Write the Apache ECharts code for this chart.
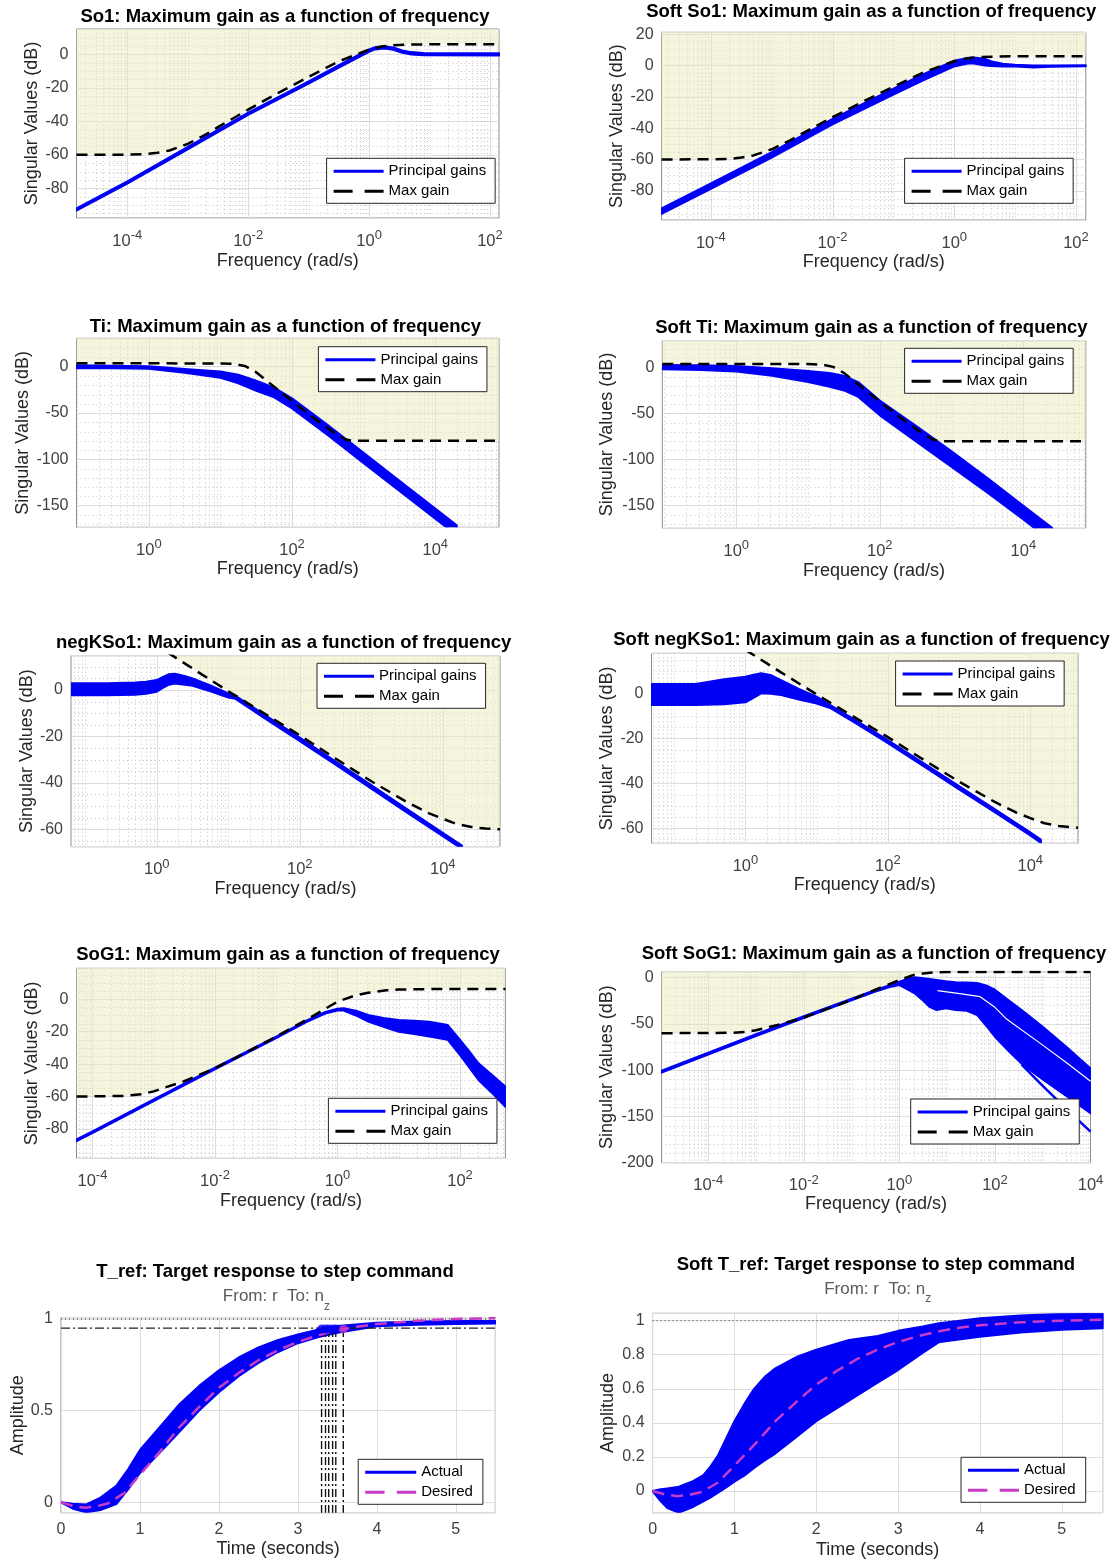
<!DOCTYPE html>
<html>
<head>
<meta charset="utf-8">
<script src="https://cdn.jsdelivr.net/npm/echarts/dist/echarts.min.js"></script>
<style>html,body{margin:0;padding:0;background:#fff}#c{width:1118px;height:1565px}</style>
</head>
<body>
<div id="c"></div>
<script>
// ================= DATA =================
// --- So1 ---
const so1BandFreq  = [1.445e-5, 1e-4, 1e-3, 1e-2, 0.1, 0.316, 1, 1.26, 1.78, 2.51, 3.55, 5.0, 7.94, 141];
const so1BandUpper = [-91.9, -75.8, -55.3, -34.8, -16.1, -6.5, 2.9, 4.3, 4.8, 4.1, 2.3, 1.3, 0.8, 0.7];
const so1BandLower = [-93.3, -77.2, -56.7, -36.2, -17.5, -7.9, 1.5, 2.9, 3.4, 2.7, 0.9, -0.1, -0.6, -0.7];
const so1MaxFreq   = [1.445e-5, 1e-4, 2e-4, 3.16e-4, 5e-4, 1e-3, 2e-3, 3.16e-3, 1e-2, 0.0316, 0.1, 0.316, 1, 1.585, 2.51, 5.0, 10, 141];
const so1MaxGain   = [-60, -59.9, -59.6, -58.8, -57.4, -53.5, -47.8, -43.5, -33, -23, -13.5, -4.2, 2.8, 4.6, 5.4, 5.8, 6, 6];

// --- Soft So1 ---
const softSo1BandFreq  = [1.55e-5, 1e-4, 1e-3, 1e-2, 0.1, 0.316, 1, 1.585, 2.0, 3.16, 3.98, 6.3, 10, 20, 39.8, 145];
const softSo1BandUpper = [-91.3, -75.3, -55.3, -34, -14.8, -5.3, 3.2, 4.8, 5.2, 4.5, 2.8, 1.2, 0.5, 0, 0, 0.3];
const softSo1BandLower = [-94.8, -78.8, -58.8, -37.5, -18.5, -9.2, -0.5, 1.2, 1.5, 0, -0.3, -0.5, -0.6, -1.2, -0.8, -0.4];
const softSo1MaxFreq   = [1.55e-5, 1e-4, 2e-4, 3.16e-4, 5e-4, 1e-3, 2e-3, 3.16e-3, 1e-2, 0.0316, 0.1, 0.316, 1, 1.585, 2.51, 5.0, 10, 145];
const softSo1MaxGain   = [-60, -59.9, -59.6, -58.8, -57.4, -53.5, -47.8, -43.5, -33, -23, -13.5, -4.2, 2.8, 4.6, 5.4, 5.8, 6, 6];

// --- Ti ---
const tiBandFreq  = [0.0977, 0.316, 1, 3.16, 10, 17.8, 31.6, 56.2, 100, 316, 1000, 3162, 10000, 19950];
const tiBandUpper = [1.5, 1.2, 0.5, -2.5, -5, -8.5, -15, -22.5, -34, -63, -93, -123, -153, -171];
const tiBandLower = [-1.5, -1.6, -2.2, -6.5, -12, -18, -26, -33, -45, -74, -104, -134, -164, -182];
const tiMaxFreq   = [0.0977, 10, 15.8, 22.4, 31.6, 41.7, 100, 190, 398, 562, 708, 77600];
const tiMaxGain   = [3.7, 3.6, 3, 0.5, -6, -13.5, -37, -54, -72, -78.5, -80, -80];

// --- Soft Ti ---
const softTiBandFreq  = [0.0933, 0.316, 1, 3.16, 10, 20, 31.6, 50.1, 100, 316, 1000, 3162, 10000, 25100];
const softTiBandUpper = [2.5, 2.2, 1.5, -1, -4, -6, -9, -16, -36, -63, -91, -120, -150, -174];
const softTiBandLower = [-2, -2.8, -4.5, -9, -16, -21, -25, -32, -52, -80, -108, -136, -165, -189];
const softTiMaxFreq   = [0.0933, 10, 15.8, 22.4, 31.6, 41.7, 100, 190, 398, 562, 708, 74100];
const softTiMaxGain   = [3.7, 3.6, 3, 0.5, -6, -13.5, -37, -54, -72, -78.5, -80, -80];

// --- negKSo1 ---
const negBandFreq  = [0.0631, 0.2, 0.501, 0.708, 1, 1.2, 1.48, 1.78, 2.0, 2.51, 3.16, 5.62, 10, 12.6, 31.6, 100, 316, 1000, 3162, 10000, 18600];
const negBandUpper = [2.9, 2.9, 3.2, 3.6, 4.3, 5.6, 6.8, 7.0, 6.7, 6.0, 5, 2, -1.5, -2.5, -10.5, -20.5, -30.7, -41, -51.3, -61.5, -67];
const negBandLower = [-2.2, -2.2, -2, -1.6, -0.7, 0.8, 2.3, 2.8, 2.6, 2.3, 1.8, -0.5, -3.2, -3.8, -12, -22, -32.2, -42.5, -52.8, -63, -68.5];
const negMaxFreq   = [1.41, 3.16, 10, 31.6, 100, 316, 1000, 3162, 6310, 10000, 15850, 25100, 39800, 63100];
const negMaxGain   = [16.2, 9.3, -0.5, -10, -19.5, -29.5, -39.3, -48.3, -53, -55.5, -57.8, -59, -59.7, -60];

// --- Soft negKSo1 ---
const softNegBandFreq  = [0.0479, 0.2, 0.501, 1, 1.26, 1.66, 2.24, 3.16, 5.62, 10, 15.8, 31.6, 100, 316, 1000, 3162, 10000, 14100];
const softNegBandUpper = [4.1, 4.2, 6.3, 7.4, 8.2, 8.9, 8.2, 5.9, 2, -1.5, -5.3, -11, -20.8, -31, -41.3, -51.5, -61.8, -65];
const softNegBandLower = [-5.2, -5.2, -4.9, -4, -2.2, 0, -0.2, -0.8, -2.8, -4.5, -6.7, -12.4, -22.2, -32.4, -42.7, -52.9, -63.2, -66.5];
const softNegMaxFreq   = [1, 3.16, 10, 31.6, 100, 316, 1000, 3162, 6310, 10000, 15850, 25100, 46800];
const softNegMaxGain   = [19.3, 9.3, -0.5, -10, -19.5, -29.5, -39.3, -48.3, -53, -55.5, -57.8, -59, -59.8];

// --- SoG1 ---
const sog1BandFreq  = [5.5e-5, 1e-4, 1e-3, 0.01, 0.1, 0.316, 0.631, 1, 1.26, 2.0, 3.16, 5.62, 10, 17.8, 31.6, 63.1, 100, 141, 200, 316, 550];
const sog1BandUpper = [-86.5, -81.5, -61.8, -42.2, -23, -13, -7.8, -5.8, -5.6, -7, -9.7, -11.5, -12.8, -13.3, -13.8, -15.9, -25, -32, -39.5, -46, -53.9];
const sog1BandLower = [-87.5, -82.5, -62.8, -43.2, -24, -14, -8.8, -7, -7, -10, -13.8, -17, -20, -21.5, -23, -25, -34.4, -42, -49.8, -57, -66.3];
const sog1MaxFreq   = [5.5e-5, 3.16e-4, 6.3e-4, 1e-3, 3.16e-3, 0.01, 0.0316, 0.1, 0.316, 1, 2.0, 3.16, 6.3, 10, 31.6, 550];
const sog1MaxGain   = [-60, -59.6, -58.6, -56.8, -50.5, -42.6, -33, -23, -12.5, -1.5, 2.5, 4, 5.5, 6, 6.3, 6.3];

// --- Soft SoG1 ---
const softSog1BandFreq  = [1.06e-5, 1e-4, 1e-3, 0.01, 0.1, 0.316, 0.631, 1, 1.41, 2.14, 3.16, 4.27, 6.03, 9.33, 15.1, 25.7, 42.7, 70.8, 100, 200, 363, 1000, 3162, 10000];
const softSog1BandUpper = [-100.6, -81, -61, -41.5, -22.8, -13.3, -8, -4.3, -1.5, 0.5, -0.5, -1.5, -2.5, -3.8, -4.8, -5.3, -5.8, -9, -13, -25, -35, -53, -75, -98];
const softSog1BandLower = [-102.6, -83, -63, -43.5, -24.5, -15, -10, -8, -12, -17.3, -25, -31.4, -35, -33, -35, -35.7, -40.3, -54, -63.8, -80, -93, -110, -128, -146.6];
const softSog1ThinFreq  = [363, 1000, 3162, 10000];
const softSog1Thin      = [-94, -117, -142, -166.5];
const softSog1GapFreq   = [6.3, 20, 49, 100, 178, 891, 3162, 10000];
const softSog1Gap       = [-14, -17.5, -20.5, -32, -45, -71, -92, -112];
const softSog1MaxFreq   = [1.06e-5, 3.16e-4, 6.3e-4, 1e-3, 3.16e-3, 0.01, 0.0316, 0.1, 0.316, 1, 2.0, 3.16, 5.13, 10, 31.6, 10000];
const softSog1MaxGain   = [-60, -59.6, -58.6, -56.8, -50.5, -43, -33.5, -24, -13, -2.5, 2.9, 4.5, 5.8, 6.2, 6.3, 6.3];

// --- T_ref (step) ---
const trefTime  = [0, 0.15, 0.32, 0.5, 0.7, 0.85, 1.0, 1.25, 1.5, 1.75, 2.0, 2.25, 2.5, 2.75, 3.0, 3.25, 3.5, 4.0, 4.5, 5.0, 5.5];
const trefUpper = [0, -0.008, -0.012, 0.025, 0.09, 0.18, 0.285, 0.41, 0.535, 0.635, 0.72, 0.79, 0.845, 0.885, 0.915, 0.942, 0.962, 0.98, 0.986, 0.989, 0.989];
const trefLower = [0, -0.035, -0.055, -0.042, -0.01, 0.07, 0.16, 0.27, 0.385, 0.5, 0.6, 0.688, 0.76, 0.82, 0.868, 0.9, 0.925, 0.96, 0.968, 0.972, 0.975];
const desiredTime = [0, 0.15, 0.3, 0.45, 0.6, 0.8, 1.0, 1.25, 1.5, 1.75, 2.0, 2.25, 2.5, 2.75, 3.0, 3.25, 3.5, 3.75, 4.0, 4.5, 5.0, 5.5];
const desiredResp = [0, -0.02, -0.03, -0.022, -0.005, 0.05, 0.15, 0.275, 0.41, 0.52, 0.625, 0.705, 0.775, 0.83, 0.875, 0.91, 0.938, 0.958, 0.973, 0.99, 1.0, 1.005];
const trefSettleTime = [3.30, 3.35, 3.39, 3.44, 3.48];
const trefSettleResp = [0.945, 0.945, 0.945, 0.945, 0.945];
const desiredSettle  = [3.575, 0.945];
const settleBandLevel = 0.95;
const steadyLevel = 1;

// --- Soft T_ref (step) ---
const softTrefTime  = [0, 0.1, 0.18, 0.32, 0.5, 0.62, 0.7, 0.8, 0.9, 1.0, 1.12, 1.24, 1.37, 1.5, 1.75, 2.0, 2.4, 2.75, 3.0, 3.3, 3.5, 3.6, 4.0, 4.5, 5.0, 5.5];
const softTrefUpper = [0, 0.01, 0.015, 0.025, 0.06, 0.094, 0.14, 0.21, 0.31, 0.41, 0.51, 0.6, 0.67, 0.72, 0.785, 0.83, 0.886, 0.91, 0.94, 0.965, 0.984, 0.99, 1.014, 1.03, 1.04, 1.048];
const softTrefLower = [0, -0.06, -0.1, -0.127, -0.092, -0.06, -0.04, -0.01, 0.022, 0.055, 0.09, 0.135, 0.18, 0.22, 0.315, 0.41, 0.53, 0.636, 0.71, 0.81, 0.873, 0.88, 0.906, 0.93, 0.947, 0.955];

// ================= STYLE / LAYOUT =================
const FONT = '"Liberation Sans", Arial, Helvetica, sans-serif';
const BLUE = '#0000f5';
const MAG = '#c83cc8';
const GRID_MAJOR = '#dddddd';
const GRID_MINOR = '#c6c6c6';
const FRAME = '#8c8c8c';
const TICKTXT = '#404040';
const NAMETXT = '#262626';
const SUBTXT = '#5a5a5a';
const YELLOW = 'rgba(236,236,190,0.5)';
const ICON_SOLID = 'path://M0,0H50V3H0Z';
const ICON_DASH = 'path://M0,0H19V3H0Z M31,0H50V3H31Z';

const panels = [
  {kind:'freq', title:'So1: Maximum gain as a function of frequency', band:[so1BandFreq, so1BandUpper, so1BandLower], max:[so1MaxFreq, so1MaxGain], xr:[1.445e-5, 141], yr:[-97.7, 15.1], ystep:20, yminor:5},
  {kind:'freq', title:'Soft So1: Maximum gain as a function of frequency', band:[softSo1BandFreq, softSo1BandUpper, softSo1BandLower], max:[softSo1MaxFreq, softSo1MaxGain], xr:[1.55e-5, 145], yr:[-98.7, 21.3], ystep:20, yminor:5},
  {kind:'freq', title:'Ti: Maximum gain as a function of frequency', band:[tiBandFreq, tiBandUpper, tiBandLower], max:[tiMaxFreq, tiMaxGain], xr:[0.0977, 77600], yr:[-173.3, 30.7], ystep:50, yminor:10},
  {kind:'freq', title:'Soft Ti: Maximum gain as a function of frequency', band:[softTiBandFreq, softTiBandUpper, softTiBandLower], max:[softTiMaxFreq, softTiMaxGain], xr:[0.0933, 74100], yr:[-174.5, 28.9], ystep:50, yminor:10},
  {kind:'freq', title:'negKSo1: Maximum gain as a function of frequency', band:[negBandFreq, negBandUpper, negBandLower], max:[negMaxFreq, negMaxGain], xr:[0.0631, 63100], yr:[-67.5, 14.8], ystep:20, yminor:5},
  {kind:'freq', title:'Soft negKSo1: Maximum gain as a function of frequency', band:[softNegBandFreq, softNegBandUpper, softNegBandLower], max:[softNegMaxFreq, softNegMaxGain], xr:[0.0479, 46800], yr:[-66.7, 17.8], ystep:20, yminor:5},
  {kind:'freq', title:'SoG1: Maximum gain as a function of frequency', band:[sog1BandFreq, sog1BandUpper, sog1BandLower], max:[sog1MaxFreq, sog1MaxGain], xr:[5.5e-5, 550], yr:[-98.1, 19.1], ystep:20, yminor:5},
  {kind:'freq', title:'Soft SoG1: Maximum gain as a function of frequency', band:[softSog1BandFreq, softSog1BandUpper, softSog1BandLower], max:[softSog1MaxFreq, softSog1MaxGain], xr:[1.06e-5, 10000], yr:[-200, 6.5], ystep:50, yminor:10,
     thin:[softSog1ThinFreq, softSog1Thin], gap:[softSog1GapFreq, softSog1Gap]},
  {kind:'step', title:'T_ref: Target response to step command', band:[trefTime, trefUpper, trefLower], desired:[desiredTime, desiredResp], xr:[0, 5.5], yr:[-0.057, 1.007], ystep:0.5, ysplit:2, settle:true},
  {kind:'step', title:'Soft T_ref: Target response to step command', band:[softTrefTime, softTrefUpper, softTrefLower], desired:[desiredTime, desiredResp], xr:[0, 5.5], yr:[-0.127, 1.043], ystep:0.2, ysplit:5}
];

const layouts = [
  {grid:[76.5, 29, 422.5, 189],    title:[285, 17],      yGap:35.5, xGap:33.7, legend:[326.6, 158.3]},
  {grid:[661.6, 32.3, 424.2, 187.7], title:[871.3, 11.7], yGap:35.1, xGap:33.3, legend:[904.6, 158.3]},
  {grid:[76.5, 338.3, 422.5, 189],  title:[285.4, 327.3], yGap:44,   xGap:31,   legend:[318.4, 346.7]},
  {grid:[662.3, 340.7, 423.5, 187.6], title:[871.4, 328.3], yGap:46.5, xGap:33.4, legend:[904.6, 348.3]},
  {grid:[71, 655.7, 429, 191],      title:[283.6, 643.3], yGap:35.3, xGap:33.3, legend:[317, 663.3]},
  {grid:[651.5, 653.3, 426.5, 190], title:[861.5, 640],   yGap:34.8, xGap:31.7, legend:[895.6, 661]},
  {grid:[76.5, 968.3, 428.9, 190],  title:[288, 955],     yGap:35.1, xGap:33.4, legend:[328.4, 1098.3]},
  {grid:[661.6, 971.7, 428.9, 191], title:[874, 954],     yGap:45.8, xGap:32.3, legend:[910.7, 1099]},
  {grid:[61, 1317.7, 434.3, 195],   title:[275, 1271.7],  yGap:34,   xGap:27.3, legend:[358.2, 1459.3], sub:[276.4, 1298.3]},
  {grid:[652.6, 1313.3, 450.1, 199.4], title:[875.9, 1265], yGap:35.1, xGap:28.3, legend:[961, 1457.3], sub:[877.7, 1291]}
];

// ================= HELPERS =================
function supLabel(v) {
  const e = Math.log10(v);
  const r = Math.round(e);
  if (Math.abs(e - r) > 1e-6 || r % 2 !== 0) return '';
  return '{b|10}{s|' + r + '}';
}
function stepLabel(step) {
  return function (v) {
    const q = v / step;
    if (Math.abs(q - Math.round(q)) > 1e-6) return '';
    return String(Math.round(v * 1000) / 1000);
  };
}
function pairs(xs, ys) { return xs.map((x, j) => [x, ys[j]]); }

function gridLineData(p) {
  const out = [];
  const ymid = (p.yr[0] + p.yr[1]) / 2;
  const xmid = Math.sqrt(p.xr[0] * p.xr[1]);
  const k0 = Math.floor(Math.log10(p.xr[0])), k1 = Math.ceil(Math.log10(p.xr[1]));
  for (let k = k0; k <= k1; k++) {
    for (let m = 1; m <= 9; m++) {
      const v = m * Math.pow(10, k);
      if (v > p.xr[0] * 1.002 && v < p.xr[1] * 0.998) out.push([v, ymid, (m === 1 && k % 2 === 0) ? 1 : 0]);
    }
  }
  const s0 = Math.ceil(p.yr[0] / p.yminor);
  for (let s = s0; s * p.yminor < p.yr[1]; s++) {
    const y = s * p.yminor;
    const q = y / p.ystep;
    if (Math.abs(q - Math.round(q)) < 1e-6) continue;
    out.push([xmid, y, 2]);
  }
  return out;
}

function gridSeries(i, p) {
  return {
    type: 'custom', xAxisIndex: i, yAxisIndex: i, z: 1, silent: true,
    data: gridLineData(p), encode: {x: 0, y: 1},
    renderItem: function (params, api) {
      const cs = params.coordSys;
      const kind = api.value(2);
      const pt = api.coord([api.value(0), api.value(1)]);
      let shape;
      if (kind < 2) {
        const x = Math.round(pt[0]) + 0.5;
        shape = {x1: x, y1: cs.y, x2: x, y2: cs.y + cs.height};
      } else {
        const y = Math.round(pt[1]) + 0.5;
        shape = {x1: cs.x, y1: y, x2: cs.x + cs.width, y2: y};
      }
      return {type: 'line', shape: shape,
        style: kind === 1 ? {stroke: GRID_MAJOR, lineWidth: 1} : {stroke: GRID_MINOR, lineWidth: 1, lineDash: [1, 3]}};
    }
  };
}

function bandSeries(i, xs, up, lo) {
  return {
    type: 'custom', xAxisIndex: i, yAxisIndex: i, z: 3, silent: true, clip: true,
    data: [[xs[0], up[0]]], encode: {x: 0, y: 1},
    renderItem: function (params, api) {
      const pts = [];
      for (let j = 0; j < xs.length; j++) pts.push(api.coord([xs[j], up[j]]));
      for (let j = xs.length - 1; j >= 0; j--) pts.push(api.coord([xs[j], lo[j]]));
      return {type: 'polygon', shape: {points: pts}, style: {fill: BLUE, stroke: BLUE, lineWidth: 2, lineJoin: 'round'}};
    }
  };
}

// ================= OPTION =================
const option = {animation: false, backgroundColor: '#ffffff', textStyle: {fontFamily: FONT},
  title: [], legend: [], grid: [], xAxis: [], yAxis: [], series: []};

panels.forEach(function (p, i) {
  const L = layouts[i];
  const isFreq = p.kind === 'freq';
  option.grid.push({left: L.grid[0], top: L.grid[1], width: L.grid[2], height: L.grid[3], show: true,
    borderColor: FRAME, borderWidth: 1, backgroundColor: 'rgba(0,0,0,0)', containLabel: false, outerBoundsMode: 'none'});
  option.title.push({text: p.title, left: L.title[0], top: L.title[1] - 11, textAlign: 'center', padding: 0, z: 10,
    textStyle: {fontSize: 18.5, fontWeight: 'bold', color: '#000', fontFamily: FONT, lineHeight: 22}});
  if (L.sub) {
    option.title.push({text: '{m|From: r  To: n}{z|z}', left: L.sub[0], top: L.sub[1] - 10, textAlign: 'center', padding: 0, z: 10,
      textStyle: {fontWeight: 'normal', rich: {
        m: {fontSize: 17, lineHeight: 20, verticalAlign: 'top', color: SUBTXT, fontFamily: FONT, fontWeight: 'normal'},
        z: {fontSize: 12, lineHeight: 12, verticalAlign: 'top', padding: [12, 0, 0, 0], color: SUBTXT, fontFamily: FONT, fontWeight: 'normal'}
      }}});
  }
  const nameStyle = {fontSize: 18, color: NAMETXT, fontFamily: FONT};
  if (isFreq) {
    option.xAxis.push({type: 'log', logBase: 10, gridIndex: i, min: p.xr[0], max: p.xr[1],
      name: 'Frequency (rad/s)', nameLocation: 'middle', nameGap: L.xGap, nameTextStyle: nameStyle,
      axisLine: {show: false}, axisTick: {show: false}, splitLine: {show: false}, minorTick: {show: false},
      axisLabel: {interval: 0, margin: 11, formatter: supLabel, color: TICKTXT,
        rich: {b: {fontSize: 16.5, lineHeight: 24, color: TICKTXT, fontFamily: FONT},
               s: {fontSize: 13, lineHeight: 14, verticalAlign: 'top', color: TICKTXT, fontFamily: FONT}}}});
  } else {
    option.xAxis.push({type: 'value', gridIndex: i, min: p.xr[0], max: p.xr[1], splitNumber: 5,
      name: 'Time (seconds)', nameLocation: 'middle', nameGap: L.xGap, nameTextStyle: nameStyle,
      axisLine: {show: false}, axisTick: {show: false},
      splitLine: {show: true, lineStyle: {color: GRID_MAJOR, width: 1}},
      axisLabel: {margin: 9, fontSize: 16, color: TICKTXT, fontFamily: FONT, formatter: stepLabel(1)}});
  }
  option.yAxis.push({type: 'value', gridIndex: i, min: p.yr[0], max: p.yr[1], splitNumber: p.ysplit || 5,
    name: isFreq ? 'Singular Values (dB)' : 'Amplitude', nameLocation: 'middle', nameRotate: 90, nameGap: L.yGap,
    nameTextStyle: nameStyle, axisLine: {show: false}, axisTick: {show: false},
    splitLine: {show: true, lineStyle: {color: GRID_MAJOR, width: 1}},
    axisLabel: {margin: 8, fontSize: 16, color: TICKTXT, fontFamily: FONT, formatter: stepLabel(p.ystep)}});

  const legendBase = {orient: 'vertical', left: L.legend[0], top: L.legend[1], itemGap: 0, itemHeight: 20,
    borderColor: '#262626', borderWidth: 1, backgroundColor: '#ffffff', borderRadius: 0, z: 10, selectedMode: false,
    symbolKeepAspect: true,
    textStyle: {fontSize: 15, color: '#000', fontFamily: FONT, lineHeight: 20}};

  if (isFreq) {
    option.series.push(gridSeries(i, p));
    // shaded region above the max-gain limit
    option.series.push({type: 'line', name: 'goal-area', xAxisIndex: i, yAxisIndex: i, data: pairs(p.max[0], p.max[1]),
      symbol: 'none', silent: true, z: 2, lineStyle: {width: 0, opacity: 0},
      areaStyle: {origin: 'end', color: YELLOW, opacity: 1}});
    option.series.push(bandSeries(i, p.band[0], p.band[1], p.band[2]));
    if (p.thin) {
      option.series.push({type: 'line', name: 'thin', xAxisIndex: i, yAxisIndex: i, data: pairs(p.thin[0], p.thin[1]),
        symbol: 'none', silent: true, z: 3, lineStyle: {color: BLUE, width: 2.5}});
    }
    if (p.gap) {
      option.series.push({type: 'line', name: 'gap', xAxisIndex: i, yAxisIndex: i, data: pairs(p.gap[0], p.gap[1]),
        symbol: 'none', silent: true, z: 4, lineStyle: {color: '#ffffff', width: 1.2}});
    }
    option.series.push({type: 'line', name: 'Principal gains', xAxisIndex: i, yAxisIndex: i, data: [],
      symbol: 'none', silent: true, z: 3, lineStyle: {color: BLUE, width: 2.5}, itemStyle: {color: BLUE}});
    option.series.push({type: 'line', name: 'Max gain', xAxisIndex: i, yAxisIndex: i, data: pairs(p.max[0], p.max[1]),
      symbol: 'none', silent: true, z: 5, lineStyle: {color: '#000', width: 2.5, type: [11, 7]}, itemStyle: {color: '#000'}});
    option.legend.push(Object.assign({}, legendBase, {padding: [3, 9, 2, 7], itemWidth: 50,
      data: [{name: 'Principal gains', icon: ICON_SOLID, itemStyle: {color: BLUE}},
             {name: 'Max gain', icon: ICON_DASH, itemStyle: {color: '#000'}}]}));
  } else {
    option.series.push(bandSeries(i, p.band[0], p.band[1], p.band[2]));
    option.series.push({type: 'line', name: 'Actual', xAxisIndex: i, yAxisIndex: i, data: [],
      symbol: 'none', silent: true, z: 3, lineStyle: {color: BLUE, width: 2.5}, itemStyle: {color: BLUE}});
    option.series.push({type: 'line', name: 'steady', xAxisIndex: i, yAxisIndex: i,
      data: [[p.xr[0], steadyLevel], [p.xr[1], steadyLevel]], symbol: 'none', silent: true, z: 4,
      lineStyle: {color: '#333', width: 1, type: [1, 3]}});
    if (p.settle) {
      option.series.push({type: 'line', name: 'settle-band', xAxisIndex: i, yAxisIndex: i,
        data: [[p.xr[0], settleBandLevel], [p.xr[1], settleBandLevel]], symbol: 'none', silent: true, z: 4,
        lineStyle: {color: '#222', width: 1.2, type: [9, 3, 2, 3]}});
      const allT = trefSettleTime.concat([desiredSettle[0]]);
      const allY = trefSettleResp.concat([desiredSettle[1]]);
      allT.forEach(function (t, j) {
        option.series.push({type: 'line', name: 'settle-v', xAxisIndex: i, yAxisIndex: i,
          data: [[t, allY[j]], [t, p.yr[0]]], symbol: 'none', silent: true, z: 4,
          lineStyle: {color: '#111', width: 1.4, type: [8, 3, 2, 3]}});
      });
    }
    option.series.push({type: 'line', name: 'Desired', xAxisIndex: i, yAxisIndex: i, data: pairs(p.desired[0], p.desired[1]),
      symbol: 'none', silent: true, z: 5, lineStyle: {color: MAG, width: 2.5, type: [12, 7]}, itemStyle: {color: MAG}});
    if (p.settle) {
      option.series.push({type: 'scatter', name: 'settle-pt', xAxisIndex: i, yAxisIndex: i,
        data: pairs(trefSettleTime, trefSettleResp), symbol: 'circle', symbolSize: 9, silent: true, z: 6,
        itemStyle: {color: BLUE}});
      option.series.push({type: 'scatter', name: 'settle-pt-d', xAxisIndex: i, yAxisIndex: i,
        data: [desiredSettle], symbol: 'circle', symbolSize: 8, silent: true, z: 6, itemStyle: {color: MAG}});
    }
    option.legend.push(Object.assign({}, legendBase, {padding: [3, 10, 2, 7], itemWidth: 51,
      data: [{name: 'Actual', icon: ICON_SOLID, itemStyle: {color: BLUE}},
             {name: 'Desired', icon: ICON_DASH, itemStyle: {color: MAG}}]}));
  }
});

const chart = echarts.init(document.getElementById('c'), null, {renderer: 'canvas', width: 1118, height: 1565});
chart.setOption(option);
</script>
</body>
</html>
